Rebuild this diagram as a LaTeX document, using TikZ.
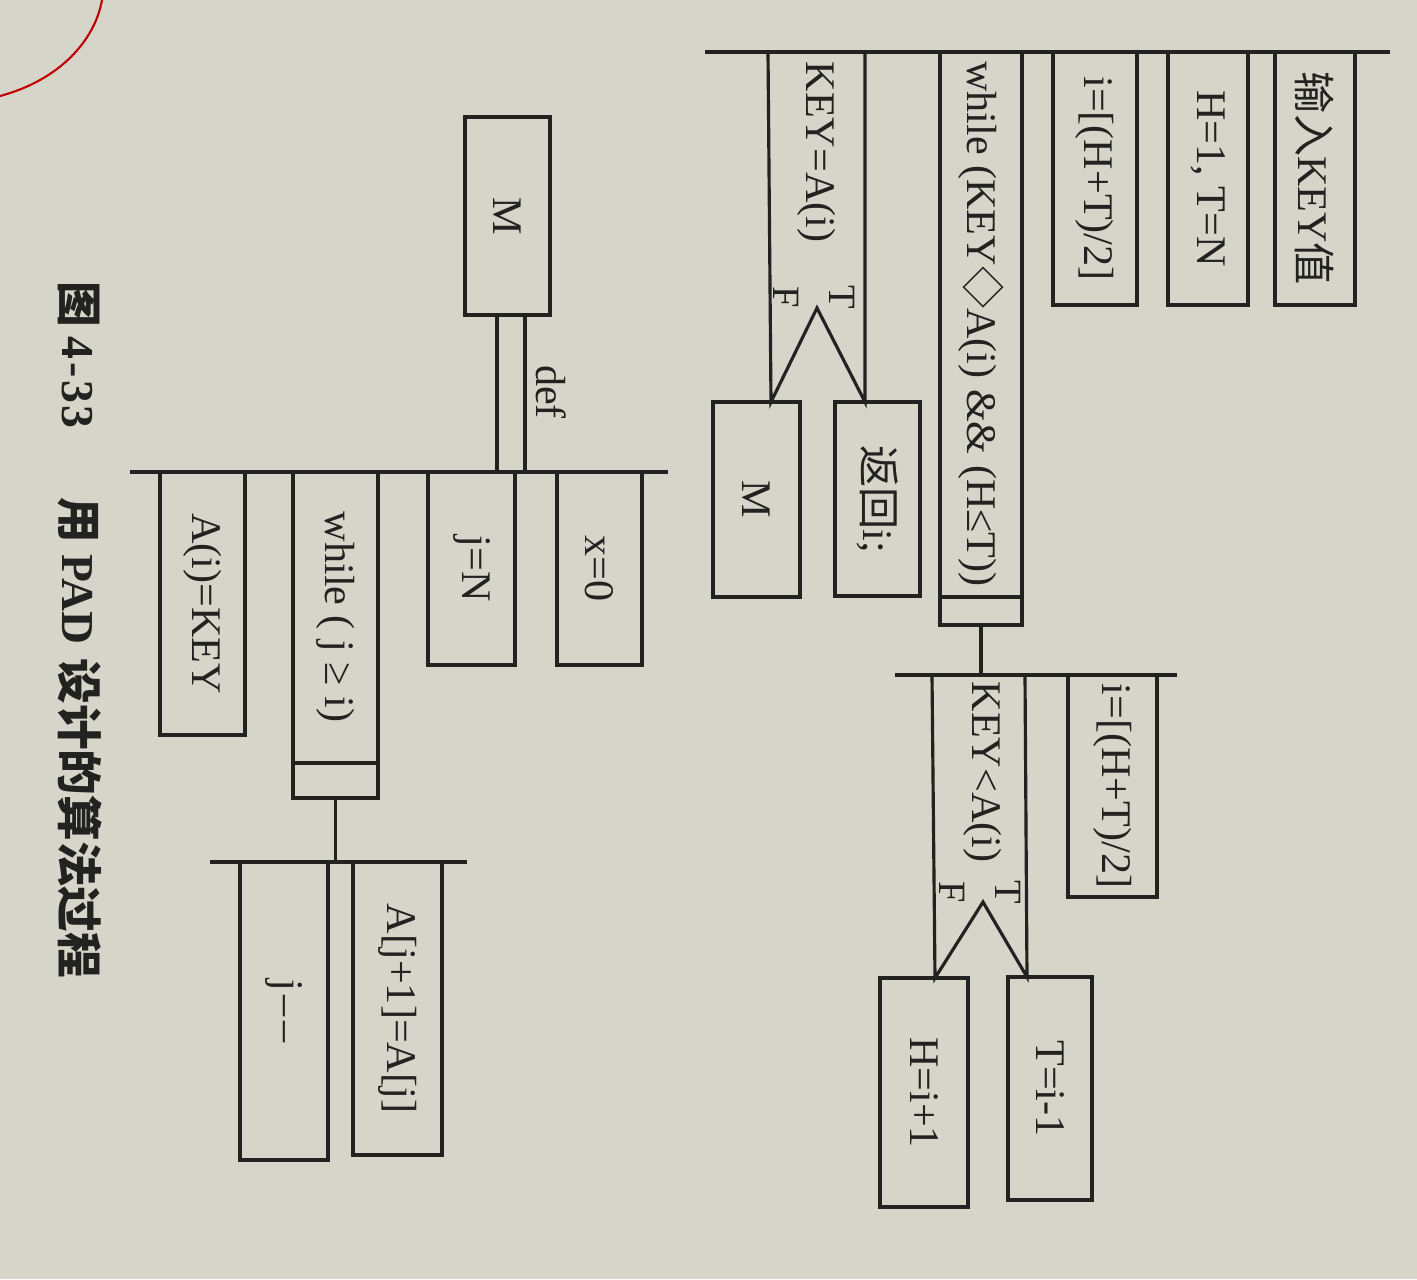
\documentclass[tikz,border=0pt]{standalone}
\usepackage{fontspec}
\setmainfont{Liberation Serif}
\newfontfamily\cjk{Noto Sans CJK SC}
\usetikzlibrary{fit}
\newcommand\rtxt[1]{\rotatebox{-90}{#1}}
\definecolor{paper}{RGB}{214,213,202}
\definecolor{ink}{RGB}{34,34,32}
\begin{document}
\begin{tikzpicture}[x=0.02cm,y=-0.02cm,
  ln/.style={draw=ink, line width=1.8pt},
  box/.style={draw=ink, line width=1.8pt, inner sep=0pt},
  txt/.style={text=ink, inner sep=0pt, font=\fontsize{24}{28}\selectfont},
  lbl/.style={text=ink, inner sep=0pt, font=\fontsize{22}{26}\selectfont}]
\fill[paper] (0,0) rectangle (1417,1279);
\useasboundingbox (0,0) rectangle (1417,1279);
\draw[red!75!black, line width=1.2pt] (0,96) .. controls (60,80) and (95,40) .. (102,0);

% ---------- top right sequence ----------
\coordinate (s1a) at (705,52);
\coordinate (s1b) at (1390,52);
\node[box, fit={(1275,52) (1355,305)}] (in) {};
\node[txt] at (in.center) {\rtxt{\cjk 输入\rmfamily KEY\cjk 值}};
\node[box, fit={(1168,52) (1248,305)}] (ht) {};
\node[txt] at (ht.center) {\rtxt{H=1, T=N}};
\node[box, fit={(1053,52) (1137,305)}] (ia) {};
\node[txt] at (ia.center) {\rtxt{i=[(H+T)/2]}};
\node[box, fit={(940,52) (1022,625)}] (wa) {};
\coordinate (waL) at (940,597);
\coordinate (waR) at (1022,597);
\draw[ln] (waL) -- (waR);
\node[txt] at (981,324) {\rtxt{while (KEY{\cjk ◇}A(i) \&\& (H≤T))}};
% selection 1
\node[box, fit={(835,402) (920,596)}] (ret) {};
\node[txt] at (ret.center) {\rtxt{\cjk 返回\rmfamily i;}};
\node[box, fit={(713,402) (800,597)}] (ma) {};
\node[txt] at (ma.center) {\rtxt{M}};
\coordinate (c1L) at (768,52);
\coordinate (c1R) at (865,52);
\coordinate (e1L) at (771,402);
\coordinate (e1R) at (865,402);
\coordinate (ap1) at (817,308);
\draw[ln] (c1L) -- (e1L) -- (ap1) -- (e1R) -- (c1R);
\node[txt] at (817,152) {\rtxt{KEY=A(i)}};
\node[lbl] at (842,297) {\rtxt{T}};
\node[lbl] at (786,297) {\rtxt{F}};
\draw[ln] (s1a) -- (s1b);

% ---------- second level under while ----------
\coordinate (s2a) at (895,675);
\coordinate (s2b) at (1177,675);
\coordinate (w1c) at (wa.south |- s2a);
\draw[ln] (wa.south) -- (w1c);
\node[box, fit={(1068,675) (1157,897)}] (ib) {};
\node[txt] at (ib.center) {\rtxt{i=[(H+T)/2]}};
\node[box, fit={(880,978) (968,1207)}] (hi) {};
\node[txt] at (hi.center) {\rtxt{H=i+1}};
\node[box, fit={(1008,977) (1092,1200)}] (ti) {};
\node[txt] at (ti.center) {\rtxt{T=i-1}};
\coordinate (c2L) at (932,675);
\coordinate (c2R) at (1025,675);
\coordinate (e2L) at (935,978);
\coordinate (e2R) at (1027,977);
\coordinate (ap2) at (983,902);
\draw[ln] (c2L) -- (e2L) -- (ap2) -- (e2R) -- (c2R);
\node[txt] at (983,772) {\rtxt{KEY<A(i)}};
\node[lbl] at (1008,892) {\rtxt{T}};
\node[lbl] at (952,892) {\rtxt{F}};
\draw[ln] (s2a) -- (s2b);

% ---------- left: M def ----------
\node[box, fit={(465,117) (550,315)}] (mt) {};
\node[txt] at (mt.center) {\rtxt{M}};
\coordinate (s3a) at (130,472);
\coordinate (s3b) at (668,472);
\node[box, fit={(497,315) (525,472)}] (df) {};
\node[txt, anchor=west] at (536,392) {\rtxt{def}};
\node[box, fit={(557,472) (642,665)}] (xz) {};
\node[txt] at (xz.center) {\rtxt{x=0}};
\node[box, fit={(428,472) (515,665)}] (jn) {};
\node[txt] at (jn.center) {\rtxt{j=N}};
\node[box, fit={(293,472) (378,798)}] (wb) {};
\coordinate (wbL) at (293,763);
\coordinate (wbR) at (378,763);
\draw[ln] (wbL) -- (wbR);
\node[txt] at (335.5,617) {\rtxt{while ( j ≥ i)}};
\node[box, fit={(160,472) (245,735)}] (ak) {};
\node[txt] at (ak.center) {\rtxt{A(i)=KEY}};
\draw[ln] (s3a) -- (s3b);

\coordinate (s4a) at (210,862);
\coordinate (s4b) at (467,862);
\coordinate (w2c) at (wb.south |- s4a);
\draw[ln] (wb.south) -- (w2c);
\node[box, fit={(240,862) (328,1160)}] (jm) {};
\node[txt] at (jm.center) {\rtxt{j\kern0.12em–\kern0.12em–}};
\node[box, fit={(353,862) (442,1155)}] (aj) {};
\node[txt] at (aj.center) {\rtxt{A[j+1]=A[j]}};
\draw[ln] (s4a) -- (s4b);

% ---------- caption ----------
\node[text=ink, inner sep=0pt, font=\fontsize{26}{30}\selectfont\bfseries] (cap) at (80,630)
  {\rtxt{\cjk 图\rmfamily\hspace{0.2em}{\addfontfeature{LetterSpace=6}4-33}\hspace{1.5em}\cjk 用\rmfamily\hspace{0.25em}PAD\hspace{0.3em}\cjk 设计的算法过程}};
\end{tikzpicture}
\end{document}
